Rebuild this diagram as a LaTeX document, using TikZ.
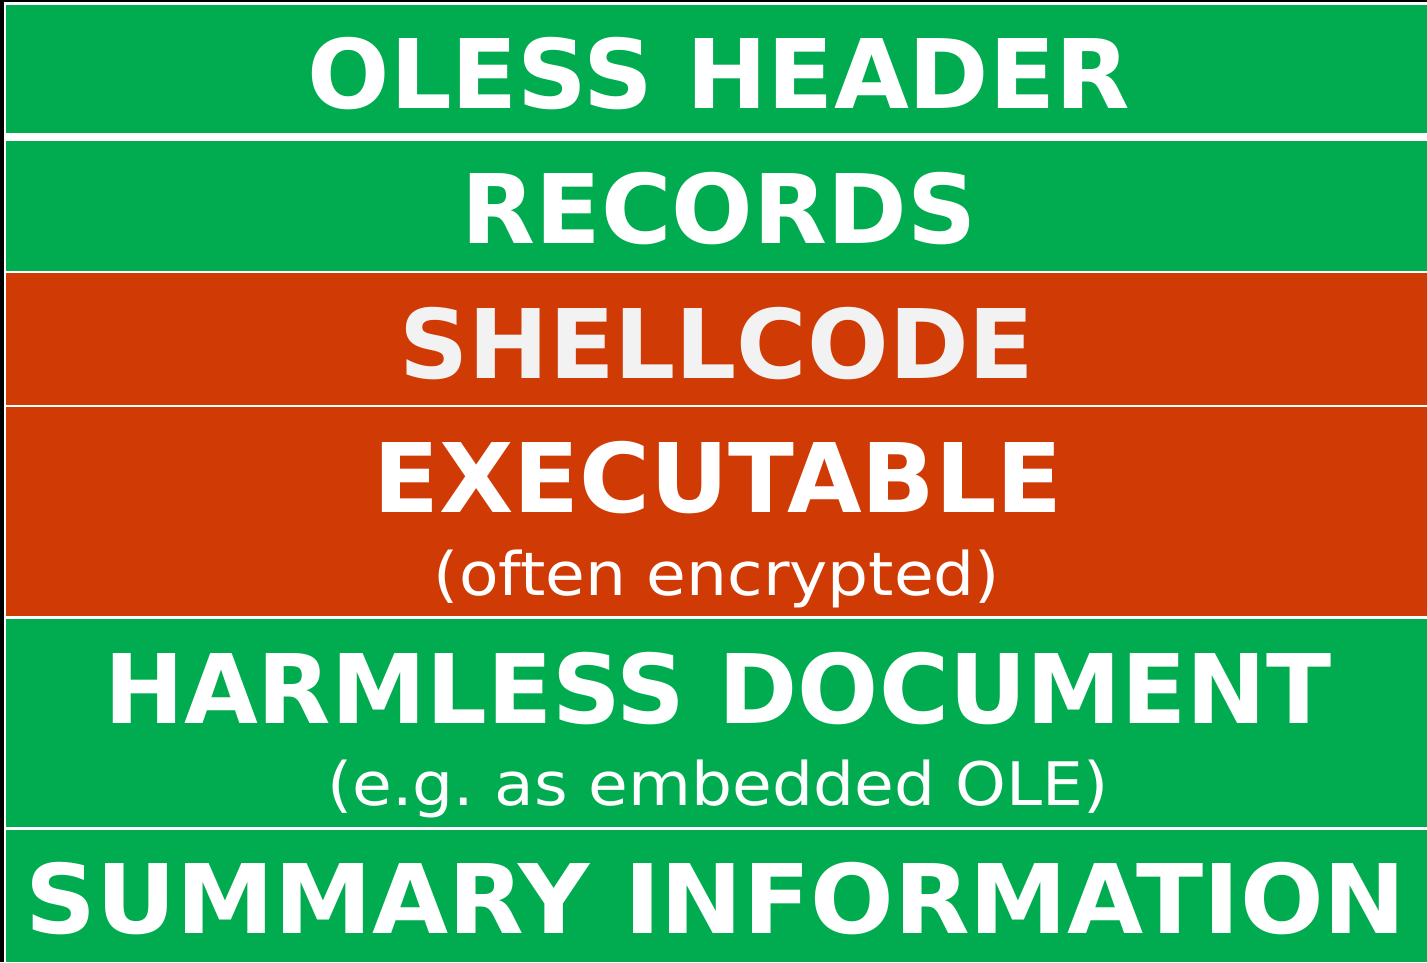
\documentclass[tikz,border=0pt]{standalone}
\usepackage{graphicx}
\usepackage{fontspec}
\setmainfont{DejaVu Sans}
\frenchspacing
\definecolor{ogreen}{RGB}{0,172,79}
\definecolor{ored}{RGB}{208,58,5}
\definecolor{lgrey}{RGB}{242,242,242}
\tikzset{
  band/.style={anchor=north west, inner sep=0pt, outer sep=0pt, draw=none, minimum width=1421pt},
  big/.style={anchor=base, inner sep=0pt, text=white, font=\fontsize{96}{96}\selectfont\bfseries},
  small/.style={anchor=base, inner sep=0pt, text=white, font=\fontsize{60}{60}\selectfont}
}
\begin{document}
\begin{tikzpicture}[x=1pt,y=-1pt]
\useasboundingbox (0,0) rectangle (1427,962);
\fill[white] (0,0) rectangle (1427,962);
\fill[black] (0,0) rectangle (4,962);
\fill[black] (0,0) rectangle (1427,2);
\node[band, fill=ogreen, minimum height=128pt] (b1) at (6,5) {};
\node[band, fill=ogreen, minimum height=129.5pt] (b2) at (6,141) {};
\node[band, fill=ored, minimum height=132pt] (b3) at (6,273) {};
\node[band, fill=ored, minimum height=209pt] (b4) at (6,407) {};
\node[band, fill=ogreen, minimum height=208pt] (b5) at (6,619) {};
\node[band, fill=ogreen, minimum height=132pt] (b6) at (6,830) {};
\node[big] (t1) at (719,108) {\scalebox{1.009}[1]{OLESS HEADER}};
\node[big] (t2) at (719,243) {RECORDS};
\node[big, text=lgrey] (t3) at (717,378) {SHELLCODE};
\node[big] (t4) at (718,512) {\scalebox{1.005}[1]{EXECUTABLE}};
\node[small] (s4) at (717,595) {\scalebox{1.077}[1]{(often encrypted)}};
\node[big] (t5) at (718,723) {\scalebox{0.994}[1]{HARMLESS DOCUMENT}};
\node[small] (s5) at (718,805) {\scalebox{1.077}[1]{(e.g. as embedded OLE)}};
\node[big] (t6) at (716,933) {\scalebox{1.025}[1]{SUMMARY INFORMATION}};
\end{tikzpicture}
\end{document}
